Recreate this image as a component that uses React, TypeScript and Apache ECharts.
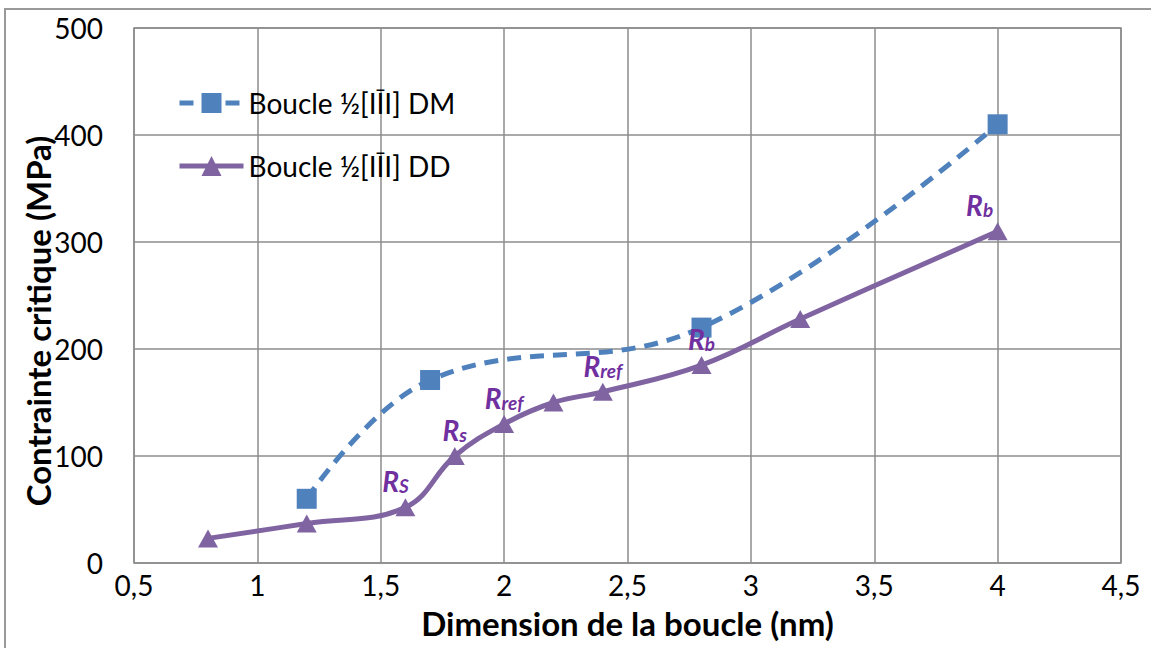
import React, { useEffect, useRef } from "react";
import * as echarts from "echarts";

const dmX = [1.2, 1.7, 2.8, 4];
const dmY = [60, 171, 220, 410];
const ddX = [0.8, 1.2, 1.6, 1.8, 2.0, 2.2, 2.4, 2.8, 3.2, 4];
const ddY = [23, 37, 52, 100, 130, 150, 160, 185, 228, 310];
const ddSub = ["", "", "S", "s", "ref", "", "ref", "b", "", "b"];
const xTicks = [0.5, 1, 1.5, 2, 2.5, 3, 3.5, 4, 4.5];
const yTicks = [0, 100, 200, 300, 400, 500];
const seriesNames = ["Boucle ½[IĪI] DM", "Boucle ½[IĪI] DD"];
const xTitle = "Dimension de la boucle (nm)";
const yTitle = "Contrainte critique (MPa)";

const FONT = "Lato";

export default function App() {
  const ref = useRef<HTMLDivElement>(null);
  useEffect(() => {
    const chart = echarts.init(ref.current!, null, { renderer: "svg" });
    const labelOffsets: Record<number, number[]> = { 2: [-10, 0], 9: [-18, 0] };
    const ddData = ddX.map((x, i) => {
      const item: any = { value: [x, ddY[i]] };
      if (ddSub[i]) {
        item.label = {
          show: true,
          position: "top",
          distance: 3,
          offset: labelOffsets[i] || [0, 0],
          formatter: "{r|R}{s|" + ddSub[i] + "}",
          rich: {
            r: { fontFamily: FONT, fontWeight: "bold", fontStyle: "italic", fontSize: 28, color: "#7030A0" },
            s: { fontFamily: FONT, fontWeight: "bold", fontStyle: "italic", fontSize: 19, color: "#7030A0", verticalAlign: "bottom", padding: [7, 0, 0, 0] },
          },
        };
      }
      return item;
    });
    chart.setOption({
      animation: false,
      backgroundColor: "#ffffff",
      graphic: [
        {
          type: "rect",
          shape: { x: 5, y: 9, width: 1200, height: 700 },
          style: { fill: "none", stroke: "#999999", lineWidth: 2 },
          silent: true,
        },
        {
          type: "text",
          x: 38,
          y: 321,
          rotation: Math.PI / 2,
          style: {
            text: yTitle,
            fontFamily: FONT,
            fontWeight: "bold",
            fontSize: 33,
            fill: "#000",
            align: "center",
            verticalAlign: "middle",
          },
          silent: true,
        },
      ],
      grid: {
        left: 134,
        top: 28,
        right: 30,
        bottom: 85,
        show: true,
        borderColor: "#8c8c8c",
        borderWidth: 1.5,
      },
      legend: {
        orient: "vertical",
        left: 172,
        top: 84,
        itemWidth: 64,
        itemHeight: 25,
        itemGap: 35,
        lineStyle: { width: 5 },
        textStyle: { fontFamily: FONT, fontSize: 28, color: "#000000" },
        data: seriesNames,
      },
      xAxis: {
        type: "value",
        min: xTicks[0],
        max: xTicks[xTicks.length - 1],
        interval: 0.5,
        name: xTitle,
        nameLocation: "middle",
        nameGap: 43,
        nameTextStyle: { fontFamily: FONT, fontWeight: "bold", fontSize: 33, color: "#000" },
        axisLine: { show: false },
        axisTick: { show: false },
        axisLabel: {
          fontFamily: FONT,
          fontSize: 28,
          color: "#000",
          margin: 8,
          formatter: (v: number) => String(v).replace(".", ","),
        },
        splitLine: { show: true, lineStyle: { color: "#8c8c8c", width: 1.5 } },
      },
      yAxis: {
        type: "value",
        min: yTicks[0],
        max: yTicks[yTicks.length - 1],
        interval: 100,
        axisLine: { show: false },
        axisTick: { show: false },
        axisLabel: { fontFamily: FONT, fontSize: 28, color: "#000", margin: 31 },
        splitLine: { show: true, lineStyle: { color: "#8c8c8c", width: 1.5 } },
      },
      series: [
        {
          name: seriesNames[0],
          type: "line",
          smooth: 0.4,
          data: dmX.map((x, i) => [x, dmY[i]]),
          symbol: "rect",
          symbolSize: 20,
          itemStyle: { color: "#4F81BD" },
          lineStyle: { color: "#4F81BD", width: 5, type: [14, 9] },
        },
        {
          name: seriesNames[1],
          type: "line",
          smooth: 0.4,
          data: ddData,
          symbol: "triangle",
          symbolSize: [20, 18],
          itemStyle: { color: "#8064A2" },
          lineStyle: { color: "#8064A2", width: 5 },
        },
      ],
    });
    return () => chart.dispose();
  }, []);
  return (
    <div
      ref={ref}
      style={{ position: "fixed", left: 0, top: 0, width: 1151, height: 648, background: "#fff" }}
    />
  );
}
